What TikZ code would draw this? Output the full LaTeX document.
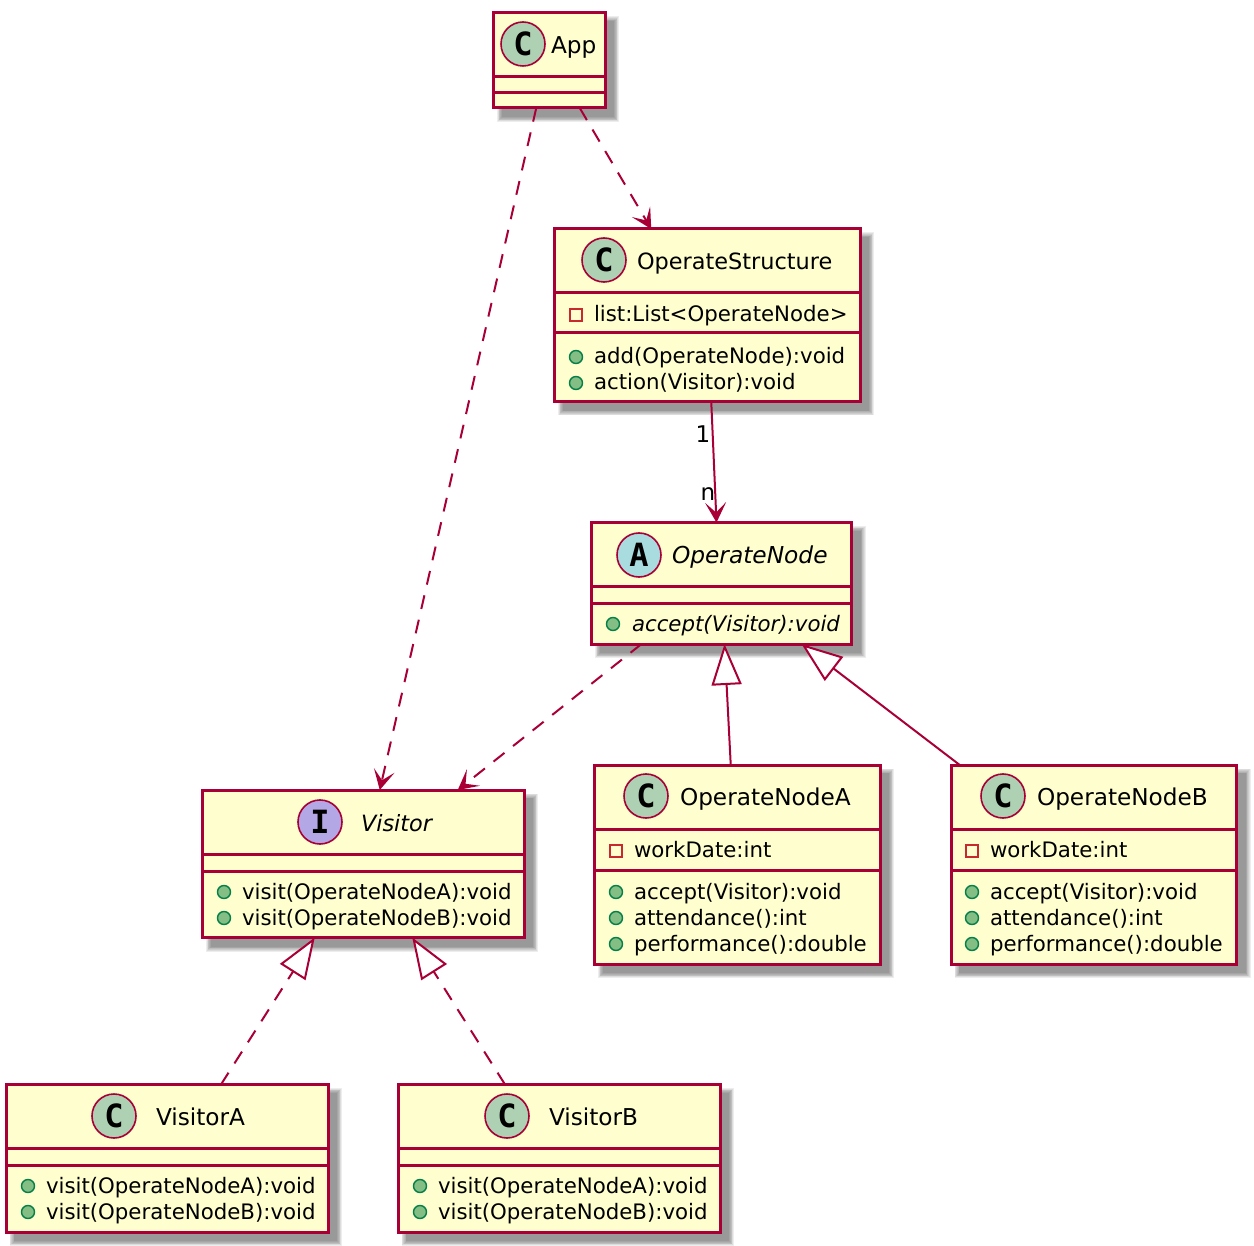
\documentclass[tikz,border=0pt]{standalone}
\usepackage{fontspec}
\setmainfont{DejaVu Sans}
\newfontfamily\iconfont{DejaVu Sans Mono}
\usetikzlibrary{arrows.meta}
\definecolor{umlline}{HTML}{A80036}
\definecolor{umlfill}{HTML}{FEFECE}
\definecolor{iconC}{HTML}{ADD1B2}
\definecolor{iconA}{HTML}{A9DCDF}
\definecolor{iconI}{HTML}{B4A7E5}
\definecolor{pubfill}{HTML}{84BE84}
\definecolor{publine}{HTML}{038048}
\definecolor{privline}{HTML}{C82930}
\tikzset{
  x=1pt,y=-1pt,
  umlbox/.style={draw=umlline,fill=umlfill,line width=3pt,rectangle,inner sep=0pt,outer sep=0pt,anchor=north west},
  sepline/.style={draw=umlline,line width=3pt},
  badge/.style={circle,draw=umlline,line width=1.6pt,minimum size=44pt,inner sep=0pt,outer sep=0pt},
  badgetext/.style={font=\iconfont\bfseries\fontsize{32}{32}\selectfont,text=black,inner sep=0pt},
  titletext/.style={anchor=base west,inner sep=0pt,outer sep=0pt,font=\fontsize{23.2}{24}\selectfont},
  titlei/.style={titletext,font=\fontsize{#1}{24}\selectfont\itshape},
  titlen/.style={titletext,font=\fontsize{22.4}{24}\selectfont},
  membertext/.style={anchor=base west,inner sep=0pt,outer sep=0pt,font=\fontsize{21.3}{24}\selectfont},
  pub/.style={circle,draw=publine,fill=pubfill,line width=1.4pt,minimum size=13pt,inner sep=0pt,outer sep=0pt},
  priv/.style={rectangle,draw=privline,line width=1.4pt,minimum size=12pt,inner sep=0pt,outer sep=0pt},
  conn/.style={draw=umlline,line width=2pt},
  dep/.style={conn,dash pattern=on 14pt off 11pt,-{Stealth[inset=10pt,length=20pt,width=21pt,umlline]}},
  assoc/.style={conn,-{Stealth[inset=10pt,length=20pt,width=21pt,umlline]}},
  inherit/.style={conn,-{Triangle[open,length=41pt,width=30pt,fill=white,umlline]}},
  realize/.style={inherit,dash pattern=on 14pt off 11pt},
  mult/.style={inner sep=0pt,font=\fontsize{23}{24}\selectfont,anchor=base},
}
\newcommand{\umlclass}[7]{%
  \foreach \k in {0,...,6}{
    \fill[black,opacity=0.07] ({#2+3.5+0.8*\k},{#3+3.5+0.8*\k}) rectangle ({#4+14-0.8*\k},{#5+14-0.8*\k});
  }
  \node[umlbox,minimum width={#4-#2},minimum height={#5-#3}] (#1) at (#2,#3) {};
  \draw[sepline] (#1.west |- 0,#6) -- (#1.east |- 0,#6);
  \draw[sepline] (#1.west |- 0,#7) -- (#1.east |- 0,#7);
}
\newcommand{\umlbadge}[5]{%
  \node[badge,fill=#4] (#1) at (#2,#3) {};
  \node[badgetext] (#1t) at (#1) {#5};
}
\begin{document}
\begin{tikzpicture}
\useasboundingbox (0,0) rectangle (1254,1246);

\umlclass{app}{493.5}{13}{605}{108}{76.5}{92.5}
\umlclass{os}{554.5}{229}{860}{401.5}{292.5}{333}
\umlclass{on}{591.5}{522.5}{851.5}{644}{586}{603}
\umlclass{vis}{202.5}{790}{524}{937.5}{854}{871}
\umlclass{ona}{594.5}{765}{880}{964}{829}{870}
\umlclass{onb}{951}{765}{1236.5}{964}{829}{870}
\umlclass{va}{6}{1084.5}{328}{1232}{1148}{1165}
\umlclass{vb}{398}{1084.5}{720}{1232}{1148}{1165}

\umlbadge{appb}{523}{44}{iconC}{C}
\umlbadge{osb}{604}{260}{iconC}{C}
\umlbadge{onbb}{639}{555}{iconA}{A}
\umlbadge{visb}{320}{822}{iconI}{I}
\umlbadge{onab}{646}{796}{iconC}{C}
\umlbadge{onbc}{1003}{796}{iconC}{C}
\umlbadge{vab}{114}{1116}{iconC}{C}
\umlbadge{vbb}{507}{1116}{iconC}{C}

\node[titletext] (appt) at (551,53.5) {App};
\node[titlen] (ost) at (637,269.5) {OperateStructure};
\node[titlei=23.3] (ont) at (672,563.5) {OperateNode};
\node[titlei=22.4] (vist) at (361,831) {Visitor};
\node[titletext] (onat) at (680,805.5) {OperateNodeA};
\node[titletext] (onbt) at (1037,805.5) {OperateNodeB};
\node[titletext] (vat) at (156,1125.5) {VisitorA};
\node[titletext] (vbt) at (549,1125.5) {VisitorB};

% OperateStructure members
\node[priv] (os1i) at (576,315) {};
\node[membertext] (os1) at (594,322) {list:List<OperateNode>};
\node[pub] (os2i) at (576,357) {};
\node[membertext] (os2) at (594,363.5) {add(OperateNode):void};
\node[pub] (os3i) at (576,383) {};
\node[membertext] (os3) at (594,389.5) {action(Visitor):void};

% OperateNode
\node[pub] (on1i) at (613,624) {};
\node[membertext,font=\fontsize{21.3}{24}\selectfont\itshape] (on1) at (632,631) {accept(Visitor):void};

% Visitor
\node[pub] (vis1i) at (224,892) {};
\node[membertext] (vis1) at (242,899.5) {visit(OperateNodeA):void};
\node[pub] (vis2i) at (224,918) {};
\node[membertext] (vis2) at (242,925.5) {visit(OperateNodeB):void};

% OperateNodeA
\node[priv] (ona1i) at (616,851) {};
\node[membertext] (ona1) at (634,857.5) {workDate:int};
\node[pub] (ona2i) at (616,892) {};
\node[membertext] (ona2) at (634,899.5) {accept(Visitor):void};
\node[pub] (ona3i) at (616,918) {};
\node[membertext] (ona3) at (634,925.5) {attendance():int};
\node[pub] (ona4i) at (616,944) {};
\node[membertext] (ona4) at (634,951.5) {performance():double};

% OperateNodeB
\node[priv] (onb1i) at (972,851) {};
\node[membertext] (onb1) at (990,857.5) {workDate:int};
\node[pub] (onb2i) at (972,892) {};
\node[membertext] (onb2) at (990,899.5) {accept(Visitor):void};
\node[pub] (onb3i) at (972,918) {};
\node[membertext] (onb3) at (990,925.5) {attendance():int};
\node[pub] (onb4i) at (972,944) {};
\node[membertext] (onb4) at (990,951.5) {performance():double};

% VisitorA
\node[pub] (va1i) at (28,1186) {};
\node[membertext] (va1) at (46,1193.5) {visit(OperateNodeA):void};
\node[pub] (va2i) at (28,1212) {};
\node[membertext] (va2) at (46,1219.5) {visit(OperateNodeB):void};

% VisitorB
\node[pub] (vb1i) at (420,1186) {};
\node[membertext] (vb1) at (438,1193.5) {visit(OperateNodeA):void};
\node[pub] (vb2i) at (420,1212) {};
\node[membertext] (vb2) at (438,1219.5) {visit(OperateNodeB):void};

% connectors
\draw[dep] ([xshift=-13pt]app.south) -- ([xshift=16.5pt]vis.north);
\draw[dep] ([xshift=30.5pt]app.south) -- ([xshift=-56pt]os.north);
\draw[assoc] ([xshift=4pt]os.south) -- ([xshift=-5pt]on.north);
\draw[dep] ([xshift=-80pt]on.south) -- ([xshift=94.5pt]vis.north);
\draw[inherit] ([xshift=-6.5pt]ona.north) -- ([xshift=3pt]on.south);
\draw[inherit] ([xshift=-134pt]onb.north) -- ([xshift=80pt]on.south);
\draw[realize] ([xshift=54pt]va.north) -- ([xshift=-48.5pt]vis.south);
\draw[realize] ([xshift=-54pt]vb.north) -- ([xshift=49pt]vis.south);

\node[mult] (m1) at (703,443) {1};
\node[mult] (m2) at (708,501) {n};
\end{tikzpicture}
\end{document}
